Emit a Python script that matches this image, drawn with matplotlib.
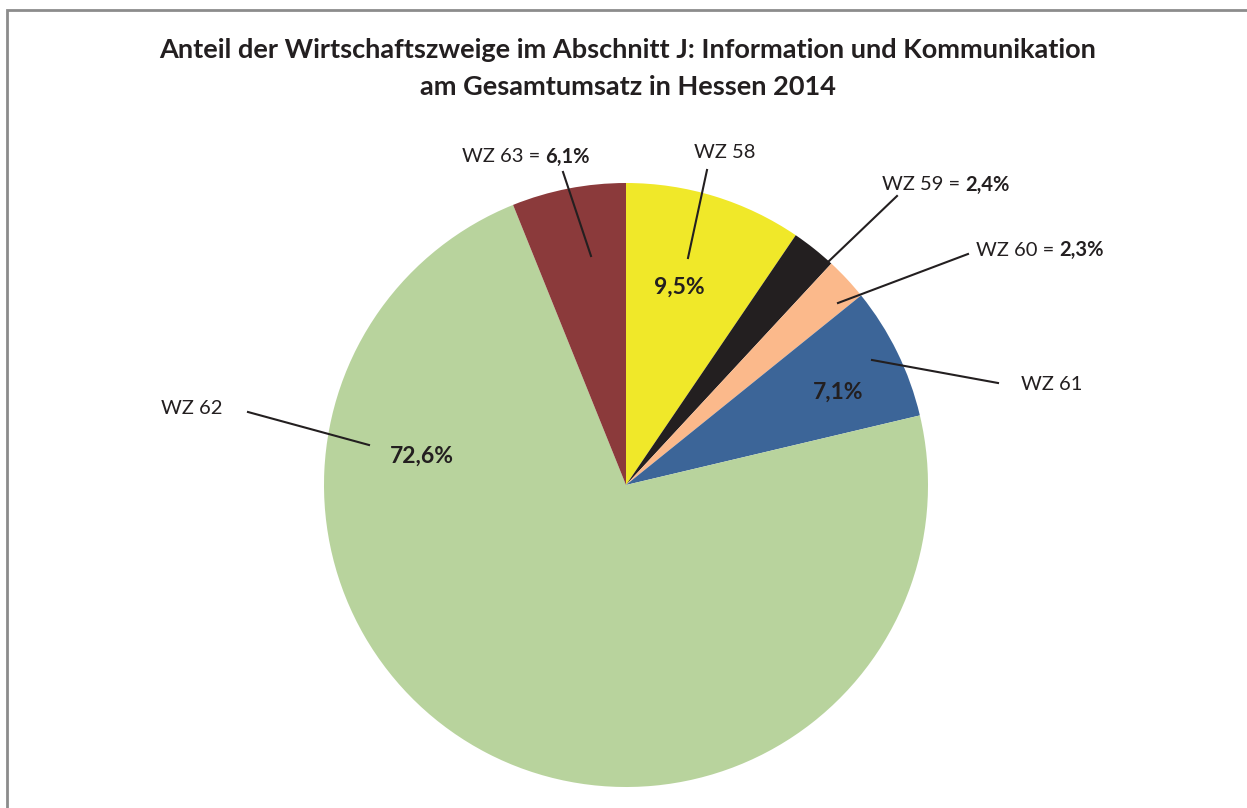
import matplotlib.pyplot as plt
from matplotlib.patches import Rectangle

# Daten
branchen = ['WZ 58', 'WZ 59', 'WZ 60', 'WZ 61', 'WZ 62', 'WZ 63']
anteile = [9.5, 2.4, 2.3, 7.1, 72.6, 6.1]
farben = ['#f0e829', '#231f20', '#fbb98b', '#3c6598', '#b8d39d', '#8b3a3b']

W, H = 1247, 808
plt.rcParams['font.family'] = ['Lato', 'DejaVu Sans']

fig = plt.figure(figsize=(W / 100, H / 100), dpi=100)
ax = fig.add_axes([0, 0, 1, 1])

cx, cy, r = 626, H - 485, 302
ax.pie(anteile, colors=farben, startangle=90, counterclock=False,
       center=(cx, cy), radius=r, frame=True,
       wedgeprops=dict(linewidth=0))
ax.set_xlim(0, W)
ax.set_ylim(0, H)
ax.set_aspect('equal')
ax.axis('off')

# Rahmen
ax.add_patch(Rectangle((7, -20), W + 20, H - 10 + 20, fill=False,
                       edgecolor='#8c8c8c', linewidth=2))

col = '#231f20'
ax.text(628, H - 50, 'Anteil der Wirtschaftszweige im Abschnitt J: Information und Kommunikation',
        ha='center', va='center', fontsize=19.5, fontweight='bold', color=col)
ax.text(628, H - 87, 'am Gesamtumsatz in Hessen 2014',
        ha='center', va='center', fontsize=19.5, fontweight='bold', color=col)

def fmt(v):
    return f'{v:.1f}'.replace('.', ',') + '%'

def y(v):
    return H - v

lw = 1.5
fs = 14.5
fs_in = 16.5
renderer = fig.canvas.get_renderer()

def linie(x0, y0, x1, y1):
    ax.plot([x0, x1], [y(y0), y(y1)], color=col, linewidth=lw)

def label_mit_wert(x0, y0, name, wert):
    t = ax.text(x0, y(y0), name + ' = ', ha='left', va='center', fontsize=fs, color=col)
    bb = t.get_window_extent(renderer=renderer)
    x1 = ax.transData.inverted().transform((bb.x1, 0))[0]
    ax.text(x1, y(y0), fmt(wert), ha='left', va='center', fontsize=fs, fontweight='bold', color=col)

# WZ 58
ax.text(725, y(153), branchen[0], ha='center', va='center', fontsize=fs, color=col)
linie(707, 170, 688, 258)
ax.text(679, y(287), fmt(anteile[0]), ha='center', va='center', fontsize=fs_in, fontweight='bold', color=col)

# WZ 59
label_mit_wert(882, 185, branchen[1], anteile[1])
linie(897, 196, 828, 262)

# WZ 60
label_mit_wert(976, 250, branchen[2], anteile[2])
linie(968, 254, 838, 303)

# WZ 61
ax.text(1052, y(384), branchen[3], ha='center', va='center', fontsize=fs, color=col)
linie(998, 383, 872, 360)
ax.text(838, y(392), fmt(anteile[3]), ha='center', va='center', fontsize=fs_in, fontweight='bold', color=col)

# WZ 62
ax.text(192, y(409), branchen[4], ha='center', va='center', fontsize=fs, color=col)
linie(248, 412, 369, 445)
ax.text(422, y(456), fmt(anteile[4]), ha='center', va='center', fontsize=fs_in, fontweight='bold', color=col)

# WZ 63
label_mit_wert(462, 157, branchen[5], anteile[5])
linie(563, 172, 591, 256)

fig.savefig('out.png', dpi=100)
